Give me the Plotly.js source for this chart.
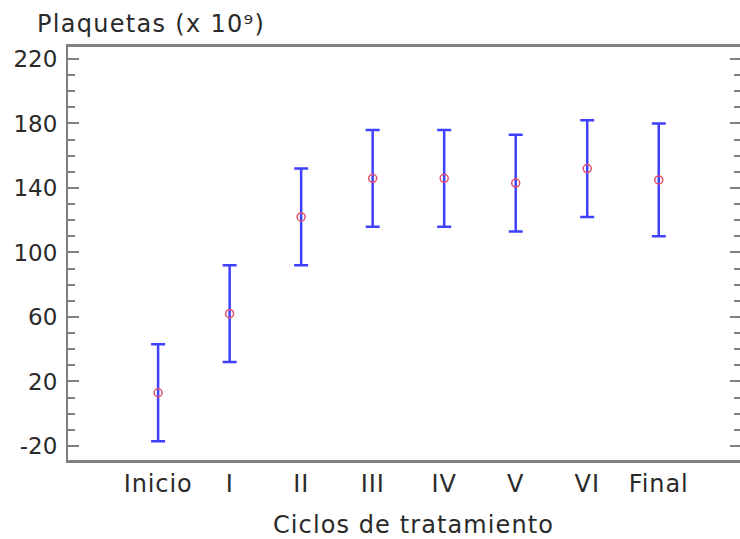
<!DOCTYPE html>
<html>
<head>
<meta charset="utf-8">
<script src="https://cdn.plot.ly/plotly-3.0.1.min.js"></script>
<style>
html,body{margin:0;padding:0;overflow:hidden;background:#fff;}
#chart{width:745px;height:539px;}
#chart .gtitle{letter-spacing:1.3px;}
#chart .xtitle{letter-spacing:1.1px;transform:translateX(9px);}
#chart .xtick text{letter-spacing:0.9px;}
</style>
</head>
<body>
<div id="chart"></div>
<script>
const categories = ['Inicio', 'I', 'II', 'III', 'IV', 'V', 'VI', 'Final'];
const means = [13, 62, 122, 146, 146, 143, 152, 145];
const errors = [30, 30, 30, 30, 30, 30, 30, 35];
const yTickVals = [-20, 20, 60, 100, 140, 180, 220];
const yTickText = ['-20', '20', '60', '100', '140', '180', '220'];

const FONT = 'DejaVu Sans, Verdana, sans-serif';
const TEXT = '#2a2a2a';

const trace = {
  type: 'scatter',
  mode: 'markers',
  x: categories,
  y: means,
  marker: {
    symbol: 'circle-open',
    size: 8,
    color: '#e0506a',
    line: {width: 1.5, color: '#e0506a'}
  },
  error_y: {
    type: 'data',
    array: errors,
    visible: true,
    color: '#4040ff',
    thickness: 2.5,
    width: 7
  },
  hoverinfo: 'x+y'
};

const layout = {
  width: 745,
  height: 539,
  margin: {l: 68, r: 4, t: 47, b: 79},
  paper_bgcolor: '#ffffff',
  plot_bgcolor: '#ffffff',
  showlegend: false,
  font: {family: FONT, size: 24, color: TEXT},
  title: {
    text: 'Plaquetas (x 10⁹)',
    font: {family: FONT, size: 24, color: TEXT},
    xref: 'container', yref: 'container',
    x: 37 / 745, xanchor: 'left',
    y: 1 - 24 / 539, yanchor: 'middle'
  },
  xaxis: {
    type: 'category',
    range: [-1.26, 8.15],
    showline: true,
    mirror: true,
    linecolor: '#808080',
    linewidth: 3,
    ticks: '',
    showgrid: false,
    zeroline: false,
    tickfont: {family: FONT, size: 24, color: TEXT},
    title: {
      text: 'Ciclos de tratamiento',
      font: {family: FONT, size: 24, color: TEXT},
      standoff: 21
    }
  },
  yaxis: {
    range: [-28.7, 227.4],
    tickmode: 'array',
    tickvals: yTickVals,
    ticktext: yTickText,
    ticks: 'inside',
    ticklen: 11,
    tickwidth: 2,
    tickcolor: '#808080',
    minor: {dtick: 10, tick0: 0, ticks: 'inside', ticklen: 7, tickwidth: 2, tickcolor: '#808080', showgrid: false},
    showline: true,
    mirror: 'ticks',
    linecolor: '#808080',
    linewidth: 2,
    showgrid: false,
    zeroline: false,
    ticklabelstandoff: 4,
    tickfont: {family: FONT, size: 23, color: TEXT}
  }
};

Plotly.newPlot('chart', [trace], layout, {displayModeBar: false, staticPlot: true});
</script>
</body>
</html>
